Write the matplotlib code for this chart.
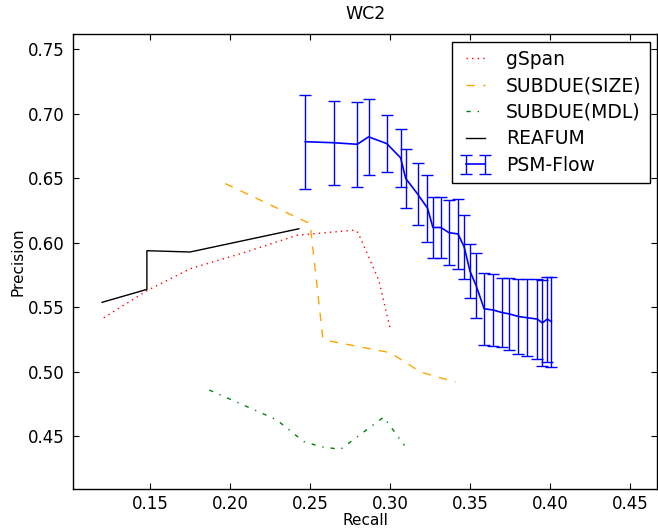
import matplotlib
matplotlib.use("Agg")
import matplotlib.pyplot as plt

plt.rcParams.update({
    "font.size": 12,
    "font.family": "DejaVu Sans",
    "axes.linewidth": 1.0,
    "lines.linewidth": 1.0,
    "lines.dashed_pattern": [6, 6],
    "lines.dashdot_pattern": [3, 5, 1, 5],
    "lines.dotted_pattern": [1, 3],
    "lines.scale_dashes": False,
    "xtick.direction": "in",
    "ytick.direction": "in",
    "xtick.top": True,
    "ytick.right": True,
    "xtick.major.size": 4,
    "ytick.major.size": 4,
})

# gSpan
gspan_recall = [0.121, 0.148, 0.175, 0.210, 0.242, 0.278, 0.280, 0.293, 0.300]
gspan_prec = [0.542, 0.563, 0.580, 0.593, 0.606, 0.610, 0.608, 0.571, 0.534]

# SUBDUE(SIZE)
size_recall = [0.197, 0.250, 0.258, 0.262, 0.300, 0.319, 0.341]
size_prec = [0.646, 0.615, 0.526, 0.524, 0.515, 0.500, 0.492]

# SUBDUE(MDL)
mdl_recall = [0.187, 0.229, 0.246, 0.257, 0.269, 0.296, 0.309]
mdl_prec = [0.486, 0.463, 0.446, 0.442, 0.440, 0.465, 0.443]

# REAFUM
reafum_recall = [0.120, 0.148, 0.148, 0.175, 0.243]
reafum_prec = [0.554, 0.564, 0.594, 0.593, 0.611]

# PSM-Flow (mean +/- error)
psm_recall = [0.247, 0.265, 0.2795, 0.2866, 0.298, 0.3066, 0.3098, 0.3172,
              0.3234, 0.3268, 0.3318, 0.3368, 0.3425, 0.3463, 0.350, 0.3538,
              0.3588, 0.3645, 0.3701, 0.3745, 0.3802, 0.3858, 0.392, 0.3952,
              0.3983, 0.4008]
psm_prec = [0.6785, 0.6777, 0.6765, 0.6823, 0.677, 0.666, 0.650, 0.638,
            0.627, 0.612, 0.612, 0.608, 0.607, 0.597, 0.578, 0.567,
            0.549, 0.548, 0.546, 0.545, 0.543, 0.542, 0.541, 0.538,
            0.541, 0.539]
psm_err = [0.0366, 0.0325, 0.033, 0.0295, 0.022, 0.0225, 0.0228, 0.024,
           0.026, 0.024, 0.024, 0.025, 0.027, 0.025, 0.021, 0.025,
           0.028, 0.028, 0.027, 0.028, 0.029, 0.030, 0.031, 0.033,
           0.033, 0.035]

fig = plt.figure(figsize=(6.58, 5.29), dpi=100)
ax = fig.add_axes([0.1114, 0.075, 0.8874, 0.8607])

ax.plot(gspan_recall, gspan_prec, "r:", label="gSpan")
ax.plot(size_recall, size_prec, "--", color="orange", label="SUBDUE(SIZE)")
ax.plot(mdl_recall, mdl_prec, "g-.", label="SUBDUE(MDL)")
ax.plot(reafum_recall, reafum_prec, "k-", label="REAFUM")
ax.errorbar(psm_recall, psm_prec, yerr=psm_err, color="b", capsize=4,
            elinewidth=1, capthick=1, linewidth=1.2, label="PSM-Flow")

ax.set_xlim(0.102, 0.467)
ax.set_ylim(0.409, 0.762)
ax.set_xticks([0.15, 0.20, 0.25, 0.30, 0.35, 0.40, 0.45])
ax.set_yticks([0.45, 0.50, 0.55, 0.60, 0.65, 0.70, 0.75])
ax.set_xticklabels(["0.15", "0.20", "0.25", "0.30", "0.35", "0.40", "0.45"])
ax.set_yticklabels(["0.45", "0.50", "0.55", "0.60", "0.65", "0.70", "0.75"])
ax.tick_params(axis="y", pad=6)
ax.tick_params(axis="x", pad=4)

ax.set_title("WC2", fontsize=12.5, pad=11)
ax.set_xlabel("Recall", fontsize=11, labelpad=0)
ax.set_ylabel("Precision", fontsize=11, labelpad=2)

leg = ax.legend(loc="upper right", fancybox=False, framealpha=1,
                edgecolor="black", fontsize=13.5, handlelength=1.6,
                borderpad=0.45, labelspacing=0.4, numpoints=2,
                handletextpad=0.8, borderaxespad=0.4)
leg.get_frame().set_linewidth(1.0)

fig.savefig("out.png", dpi=100)
